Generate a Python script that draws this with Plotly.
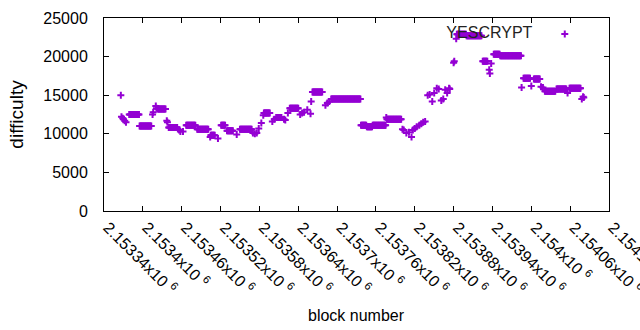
import plotly.graph_objects as go

# Runs of consecutive blocks sharing the same difficulty (first block, last block, value)
seg_first = [2153366, 2153367, 2153369, 2153370, 2153372, 2153374, 2153379, 2153395,
             2153415, 2153416, 2153420, 2153421, 2153423, 2153437, 2153438, 2153440,
             2153456, 2153458, 2153462, 2153467, 2153484, 2153504, 2153505, 2153516,
             2153521, 2153530, 2153545, 2153550, 2153570, 2153573, 2153576, 2153579,
             2153583, 2153586, 2153587, 2153600, 2153603, 2153606, 2153618, 2153620,
             2153624, 2153627, 2153643, 2153646, 2153649, 2153654, 2153659, 2153660,
             2153662, 2153682, 2153685, 2153688, 2153691, 2153737, 2153746, 2153755,
             2153776, 2153777, 2153801, 2153803, 2153807, 2153811, 2153815, 2153817,
             2153820, 2153823, 2153827, 2153830, 2153833, 2153836, 2153840, 2153843,
             2153847, 2153850, 2153854, 2153857, 2153861, 2153864, 2153867, 2153870,
             2153873, 2153874, 2153880, 2153881, 2153884, 2153885, 2153900, 2153925,
             2153935, 2153936, 2153938, 2153942, 2153952, 2153985, 2153988, 2154000,
             2154004, 2154015, 2154018, 2154021, 2154039, 2154056, 2154059, 2154078,
             2154080, 2154081]
seg_last = [2153366, 2153367, 2153369, 2153370, 2153372, 2153374, 2153394, 2153413,
            2153415, 2153416, 2153420, 2153421, 2153435, 2153437, 2153438, 2153453,
            2153456, 2153458, 2153462, 2153481, 2153501, 2153504, 2153511, 2153516,
            2153527, 2153539, 2153545, 2153568, 2153570, 2153573, 2153576, 2153579,
            2153583, 2153586, 2153596, 2153600, 2153603, 2153614, 2153618, 2153620,
            2153624, 2153640, 2153643, 2153646, 2153649, 2153654, 2153659, 2153660,
            2153677, 2153682, 2153685, 2153688, 2153736, 2153745, 2153754, 2153775,
            2153776, 2153799, 2153801, 2153803, 2153807, 2153811, 2153815, 2153817,
            2153820, 2153823, 2153827, 2153830, 2153833, 2153836, 2153840, 2153843,
            2153847, 2153850, 2153854, 2153857, 2153861, 2153864, 2153867, 2153870,
            2153873, 2153874, 2153880, 2153881, 2153884, 2153899, 2153923, 2153932,
            2153935, 2153936, 2153938, 2153951, 2153984, 2153985, 2153998, 2154000,
            2154013, 2154015, 2154018, 2154037, 2154054, 2154056, 2154076, 2154078,
            2154080, 2154081]
seg_value = [15000, 12200, 12000, 11900, 11700, 11500, 12500, 11000,
             12500, 12800, 13600, 13300, 13200, 11700, 11500, 10800,
             10500, 10300, 10300, 11100, 10600, 9600, 9800, 9400,
             11100, 10400, 9900, 10600, 10100, 10000, 10100, 10700,
             11400, 12400, 12700, 11600, 11900, 12100, 11900, 11800,
             12700, 13300, 12500, 12700, 12800, 13100, 12600, 14200,
             15400, 13700, 14000, 14200, 14500, 11100, 10900, 11100,
             12100, 11900, 10600, 10500, 10100, 10200, 9600, 10500,
             10700, 10900, 11100, 11300, 11500, 11600, 15000, 15100,
             14200, 15300, 15900, 15800, 14300, 14500, 15700, 15300,
             15900, 15800, 19200, 19400, 22300, 22900, 22700, 19400,
             18300, 17800, 19100, 20300, 20100, 16000, 17200, 16200,
             17100, 16100, 16000, 15500, 15800, 15300, 15900, 14500,
             14800, 14700]

tick_vals = [2153340, 2153400, 2153460, 2153520, 2153580, 2153640, 2153700,
             2153760, 2153820, 2153880, 2153940, 2154000, 2154060, 2154120]
tick_text = ["2.15334x10 <sup>6</sup>", "2.1534x10 <sup>6</sup>", "2.15346x10 <sup>6</sup>",
             "2.15352x10 <sup>6</sup>", "2.15358x10 <sup>6</sup>", "2.15364x10 <sup>6</sup>",
             "2.1537x10 <sup>6</sup>", "2.15376x10 <sup>6</sup>", "2.15382x10 <sup>6</sup>",
             "2.15388x10 <sup>6</sup>", "2.15394x10 <sup>6</sup>", "2.154x10 <sup>6</sup>",
             "2.15406x10 <sup>6</sup>", "2.15412x10 <sup>6</sup>"]
y_ticks = [0, 5000, 10000, 15000, 20000, 25000]
y_tick_text = ["0", "5000", "10000", "15000", "20000", "25000"]

blocks, difficulty = [], []
for a, b, v in zip(seg_first, seg_last, seg_value):
    for blk in range(a, b + 1):
        blocks.append(blk)
        difficulty.append(v)

FONT = "Liberation Sans, Arial, sans-serif"
COLOR = "#9400D3"

fig = go.Figure()
fig.add_trace(go.Scatter(
    x=blocks, y=difficulty, mode="markers", name=" ",
    marker=dict(symbol="cross-thin", size=5, color=COLOR,
                line=dict(color=COLOR, width=2)),
    showlegend=True,
))

fig.update_layout(
    width=640, height=330,
    margin=dict(l=104, r=31, t=18, b=119, autoexpand=False),
    paper_bgcolor="white", plot_bgcolor="white",
    font=dict(family=FONT, size=16, color="black"),
    showlegend=True,
    legend=dict(
        x=0.674, y=1.005, xanchor="left", yanchor="top",
        bgcolor="rgba(0,0,0,0)", borderwidth=0,
        title=dict(text="YESCRYPT&nbsp;", side="left",
                   font=dict(size=16, color="#222222")),
        font=dict(size=16), itemwidth=30,
    ),
    xaxis=dict(
        range=[2153340, 2154120], tickmode="array", tickvals=tick_vals,
        ticktext=tick_text, tickangle=45, ticks="inside", ticklen=5,
        tickcolor="black", showline=True, linecolor="black", linewidth=1,
        mirror="ticks", showgrid=False, zeroline=False, automargin=False,
        tickfont=dict(size=16), ticklabeloverflow="allow", ticklabelshift=4,
    ),
    yaxis=dict(
        range=[0, 25000], tickmode="array", tickvals=y_ticks, ticktext=y_tick_text,
        ticks="inside", ticklen=5, tickcolor="black", showline=True,
        linecolor="black", linewidth=1, mirror="ticks", showgrid=False,
        zeroline=False, automargin=False, title=dict(text="difficulty", standoff=14),
        tickfont=dict(size=16), ticklabelstandoff=12,
    ),
    annotations=[dict(
        text="block number", xref="paper", yref="paper", x=0.5, y=-0.539,
        xanchor="center", yanchor="middle", showarrow=False,
        font=dict(size=16, family=FONT),
    )],
)

fig.write_html("out.html", post_script="document.body.style.margin='0';",
               config={"displayModeBar": False})
